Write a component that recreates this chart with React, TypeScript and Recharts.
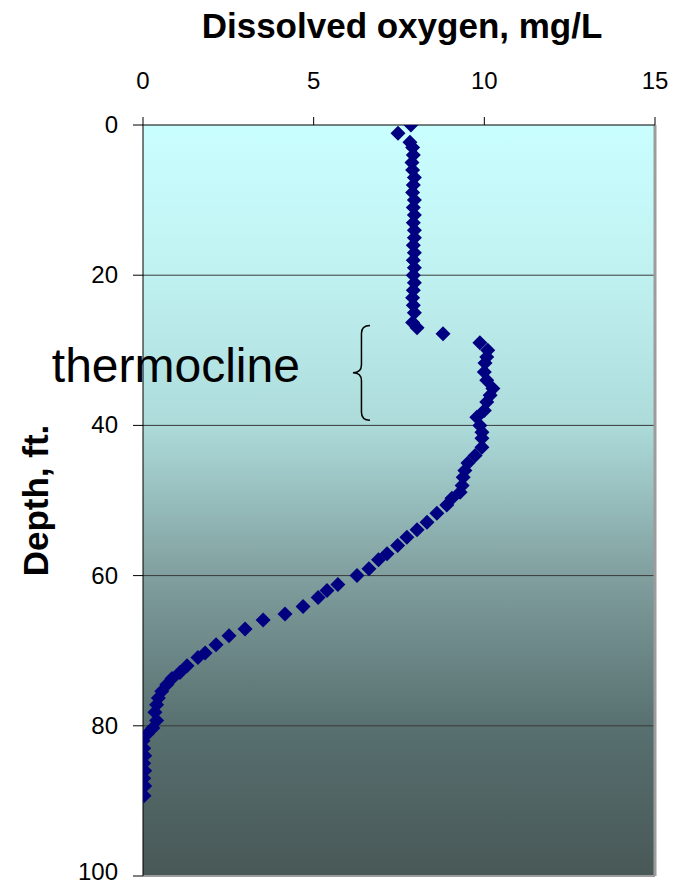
import React from 'react';
import {
  ScatterChart,
  Scatter,
  XAxis,
  YAxis,
  CartesianGrid,
  ReferenceArea,
  ReferenceLine,
  Label,
} from 'recharts';

// depth of each reading, ft
const depthFt = [
  0, 1.1, 2.3, 3, 4, 5, 6, 7, 8, 9, 10, 11, 12, 13, 14, 15, 16, 17, 18, 19, 20,
  21, 22, 23, 24, 25, 26.3, 27, 27.8, 29, 30, 30.9, 31.7, 32.9, 34, 35.1, 36,
  36.9, 38, 38.9, 40, 40.9, 41.7, 42.9, 44, 45, 46, 46.9, 48, 48.9, 49.7, 50.6,
  51.7, 52.9, 53.9, 54.9, 56, 57.1, 57.9, 59.1, 60, 61.2, 62, 62.9, 64.1, 65.1,
  65.9, 67.1, 68, 69.2, 70.3, 70.9, 72, 72.9, 73.7, 74.5, 75.4, 76.3, 77.2,
  78.2, 79.3, 80.3, 81.1, 82, 83, 84, 85, 86, 87, 88, 89.3,
];

// dissolved oxygen at each depth, mg/L
const oxygenMgL = [
  7.85, 7.47, 7.82, 7.9, 7.92, 7.88, 7.9, 7.95, 7.92, 7.9, 7.95, 7.92, 7.95,
  7.92, 7.95, 7.95, 7.92, 7.95, 7.92, 7.95, 7.92, 7.95, 7.92, 7.9, 7.92, 7.95,
  7.9, 8.03, 8.79, 9.87, 10.1, 10.07, 10.02, 10.0, 10.07, 10.25, 10.17, 10.07,
  10.0, 9.78, 9.87, 9.93, 9.93, 9.93, 9.73, 9.52, 9.43, 9.38, 9.35, 9.29, 9.05,
  8.9, 8.61, 8.32, 8.03, 7.73, 7.46, 7.15, 6.9, 6.62, 6.27, 5.71, 5.39, 5.13,
  4.69, 4.16, 3.52, 2.99, 2.52, 2.14, 1.82, 1.61, 1.29, 1.08, 0.85, 0.7, 0.55,
  0.45, 0.4, 0.35, 0.4, 0.29, 0.12, 0.0, 0.02, 0.05, 0.02, 0.05, 0.02, 0.05,
  0.03,
];

const oxygenTicks = [0, 5, 10, 15];
const depthTicks = [0, 20, 40, 60, 80, 100];
const gridDepths = [20, 40, 60, 80];

// extent of the thermocline bracket
const thermoclineDepths = [26.7, 39.3];
const thermoclineOxygen = [6.15, 6.65];

const points = depthFt.map((depth, i) => ({ depth, oxygen: oxygenMgL[i] }));

const FONT = '"Liberation Sans", Arial, sans-serif';

const Diamond = (props: any) => {
  const { cx, cy } = props;
  const r = 7.5;
  return (
    <path
      d={`M${cx},${cy - r}L${cx + r},${cy}L${cx},${cy + r}L${cx - r},${cy}Z`}
      fill="#000080"
    />
  );
};

const XTick = ({ x, y, payload }: any) => (
  <text x={x} y={y} textAnchor="middle" fontFamily={FONT} fontSize={24} fill="#000">
    {payload.value}
  </text>
);

// keep the bottom label inside the page
const YTick = ({ x, y, payload }: any) => (
  <text x={x} y={Math.min(y + 8, 880)} textAnchor="end" fontFamily={FONT} fontSize={24} fill="#000">
    {payload.value}
  </text>
);

// curly brace plus the "thermocline" caption to its left
const Brace = (props: any) => {
  const { x, y, width, height } = props;
  const mid = y + height / 2;
  const xm = x + width / 2;
  const r = 8;
  const d = [
    `M${x + width},${y}`,
    `Q${xm},${y} ${xm},${y + r}`,
    `L${xm},${mid - r}`,
    `Q${xm},${mid} ${x},${mid}`,
    `Q${xm},${mid} ${xm},${mid + r}`,
    `L${xm},${y + height - r}`,
    `Q${xm},${y + height} ${x + width},${y + height}`,
  ].join(' ');
  return (
    <g>
      <path d={d} fill="none" stroke="#000" strokeWidth={1.5} />
      <text
        x={x - 53}
        y={mid + 9}
        textAnchor="end"
        fontFamily={FONT}
        fontSize={48}
        fill="#000"
      >
        thermocline
      </text>
    </g>
  );
};

export default function App() {
  return (
    <div style={{ position: 'absolute', left: 0, top: 0, width: 677, height: 886, background: '#fff' }}>
      <svg width={0} height={0} style={{ position: 'absolute' }}>
        <defs>
          <linearGradient id="waterFill" x1="0" y1="0" x2="0" y2="1">
            <stop offset="0" stopColor="#caffff" />
            <stop offset="0.2" stopColor="#c0f1f1" />
            <stop offset="0.4" stopColor="#acdbda" />
            <stop offset="0.6" stopColor="#809f9e" />
            <stop offset="0.8" stopColor="#587070" />
            <stop offset="1" stopColor="#485857" />
          </linearGradient>
        </defs>
      </svg>
      <ScatterChart
        width={677}
        height={886}
        margin={{ top: 0, right: 22, bottom: 10, left: 0 }}
      >
        <CartesianGrid
          vertical={false}
          horizontalValues={gridDepths}
          stroke="#3a3a3a"
          strokeWidth={1}
          fill="url(#waterFill)"
          fillOpacity={1}
        />
        <XAxis
          type="number"
          dataKey="oxygen"
          orientation="top"
          domain={[0, 15]}
          ticks={oxygenTicks}
          height={125}
          tickSize={8}
          tickMargin={28}
          stroke="#000"
          tick={<XTick />}
          allowDataOverflow
        >
          <Label
            content={({ viewBox }: any) => (
              <text
                x={viewBox.x + viewBox.width / 2 + 3}
                y={viewBox.y + 38}
                textAnchor="middle"
                fontFamily={FONT}
                fontWeight="bold"
                fontSize={35}
                fill="#000"
              >
                Dissolved oxygen, mg/L
              </text>
            )}
          />
        </XAxis>
        <YAxis
          type="number"
          dataKey="depth"
          reversed
          domain={[0, 100]}
          ticks={depthTicks}
          width={143}
          tickSize={10}
          tickMargin={15}
          stroke="#000"
          tick={<YTick />}
          allowDataOverflow
        >
          <Label
            content={({ viewBox }: any) => {
              const cx = 48;
              const cy = viewBox.y + viewBox.height / 2;
              return (
                <text
                  x={cx}
                  y={cy}
                  transform={`rotate(-90, ${cx}, ${cy})`}
                  textAnchor="middle"
                  fontFamily={FONT}
                  fontWeight="bold"
                  fontSize={35}
                  fill="#000"
                >
                  Depth, ft.
                </text>
              );
            }}
          />
        </YAxis>
        <ReferenceLine x={15} stroke="#9c9c9c" strokeWidth={3} />
        <ReferenceLine y={100} stroke="#9c9c9c" strokeWidth={2} />
        <ReferenceArea
          x1={thermoclineOxygen[0]}
          x2={thermoclineOxygen[1]}
          y1={thermoclineDepths[0]}
          y2={thermoclineDepths[1]}
          shape={<Brace />}
        />
        <Scatter
          data={points}
          shape={<Diamond />}
          isAnimationActive={false}
        />
      </ScatterChart>
    </div>
  );
}
